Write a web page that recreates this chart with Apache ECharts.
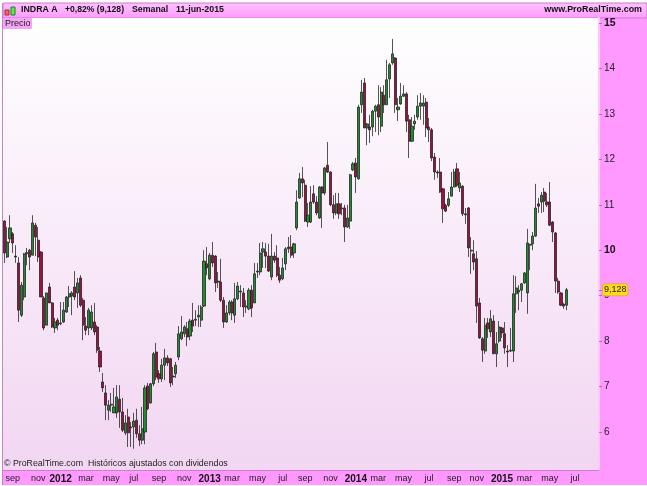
<!DOCTYPE html>
<html>
<head>
<meta charset="utf-8">
<style>
  html, body { margin: 0; padding: 0; background: #fff; }
  #chart { width: 647px; height: 486px; filter: blur(0.35px); }
</style>
<script src="https://cdn.jsdelivr.net/npm/echarts@6/dist/echarts.min.js"></script>
</head>
<body>
<div id="chart"></div>
<script>
// weekly candles, aug 2011 - jun 2015
const opens = [
  10.64,9.85,10.25,10.36,9.87,9.72,8.57,8.97,9.92,10.00,
  9.89,10.55,10.22,9.96,8.95,8.35,9.19,8.84,8.29,8.46,
  8.38,8.42,8.64,8.97,8.99,9.19,9.06,9.39,8.90,8.33,
  8.29,8.29,8.42,8.31,7.78,7.10,6.86,6.48,6.59,6.42,
  6.42,6.72,6.44,5.98,6.33,6.11,6.11,6.26,5.96,5.82,
  6.00,7.01,6.64,7.06,7.76,7.28,7.17,7.47,7.63,7.61,
  7.21,7.28,7.65,8.05,8.16,8.27,8.11,8.46,8.46,8.53,
  8.46,8.77,9.70,9.37,9.89,9.87,9.30,9.30,8.90,8.42,
  8.62,8.86,8.57,8.93,9.08,9.06,8.75,8.71,9.12,8.84,
  9.52,9.52,9.96,9.96,9.87,9.41,9.87,9.83,9.45,9.37,
  9.70,10.07,10.07,9.94,10.49,11.15,11.57,11.43,10.62,10.62,
  11.24,11.06,10.71,11.39,11.26,11.87,11.72,11.00,10.82,11.02,
  10.91,10.93,10.51,10.64,11.77,11.92,11.57,13.20,13.68,12.69,
  12.71,12.71,13.06,13.20,12.73,13.41,13.20,13.77,14.12,14.23,
  13.09,13.22,13.39,13.44,12.87,12.40,12.78,12.93,13.17,13.17,
  13.26,12.71,12.65,12.05,11.72,11.72,11.35,10.99,10.99,11.19,
  11.39,11.79,11.37,11.41,10.80,10.93,9.98,9.92,9.81,8.84,
  8.05,7.78,8.40,8.20,8.44,7.72,8.00,8.29,8.16,7.78,
  7.78,7.78,9.04,9.08,9.12,9.28,9.06,10.11,10.14,10.31,
  11.02,11.06,11.28,11.06,11.06,10.62,10.38,9.32,9.06,8.81,8.79
]
const closes = [
  9.94,10.18,10.49,10.16,9.85,8.68,9.23,9.92,9.95,9.85,
  10.60,10.29,9.85,8.97,8.29,9.06,8.84,8.31,8.42,8.35,
  8.40,8.68,8.97,9.04,9.06,8.97,9.28,8.79,8.35,8.24,
  8.68,8.64,8.20,7.80,7.43,6.97,6.59,6.59,6.61,6.55,
  6.77,6.44,6.04,6.20,5.98,6.09,6.24,5.96,5.82,6.07,
  6.97,6.51,7.06,7.72,7.21,7.17,7.47,7.63,7.52,7.08,
  7.23,7.47,8.16,8.20,8.31,8.09,8.44,8.33,8.48,8.57,
  8.75,9.76,9.61,9.89,9.72,9.28,9.32,8.90,8.42,8.62,
  8.86,8.62,8.93,9.21,9.10,8.75,8.77,9.12,8.73,9.48,
  9.54,9.94,10.03,9.87,9.54,9.87,9.78,9.45,9.34,9.61,
  10.03,10.03,9.89,10.14,11.06,11.57,11.48,10.64,10.77,11.06,
  11.06,10.82,11.39,11.26,11.81,11.72,11.00,10.82,11.02,10.80,
  10.93,10.51,10.71,11.66,11.90,11.61,13.15,13.48,12.69,12.78,
  12.65,13.06,13.17,12.93,13.48,13.20,13.75,14.08,14.32,13.20,
  13.15,13.39,13.44,12.84,12.40,12.73,12.84,13.17,13.24,13.24,
  12.69,12.65,12.03,11.72,11.70,11.28,10.91,10.86,11.13,11.39,
  11.72,11.43,11.48,10.80,10.78,10.05,10.00,9.74,8.77,8.07,
  7.80,8.35,8.27,8.49,7.72,7.94,8.31,8.18,7.85,7.76,
  7.80,9.04,9.17,9.12,9.26,9.50,10.16,10.13,10.31,10.93,
  10.97,11.21,11.08,11.00,10.55,10.40,9.32,9.08,8.79,8.77,9.128
]
const lows = [
  9.72,9.83,10.16,9.94,9.72,8.42,8.53,8.90,9.67,9.56,
  9.89,9.87,9.74,8.97,8.24,8.35,8.84,8.29,8.18,8.24,
  8.35,8.40,8.62,8.75,8.57,8.90,8.73,8.75,8.02,8.13,
  8.13,8.24,8.13,7.74,7.32,6.88,6.26,6.26,6.44,6.42,
  6.31,6.09,6.00,5.93,5.67,5.67,5.63,5.87,5.69,5.73,
  5.73,6.48,6.62,7.01,7.14,7.08,7.10,7.14,7.45,6.99,
  7.03,7.19,7.58,8.02,8.09,7.89,8.02,8.20,8.33,8.31,
  8.31,8.75,9.45,9.34,9.63,9.08,9.17,8.86,8.29,8.40,
  8.57,8.46,8.40,8.90,8.75,8.53,8.62,8.68,8.53,8.84,
  9.39,9.45,9.61,9.61,9.52,9.34,9.72,9.41,9.28,9.34,
  9.56,9.94,9.83,9.83,10.44,11.13,11.17,10.62,10.51,10.60,
  11.02,10.77,10.69,10.49,11.21,11.70,10.97,10.69,10.77,10.69,
  10.77,10.18,10.49,10.47,11.74,11.26,11.55,13.02,12.69,12.31,
  12.36,12.51,12.60,12.53,12.60,13.02,13.20,13.35,14.08,13.02,
  12.84,13.20,13.37,12.60,12.03,12.38,12.65,12.87,12.87,12.76,
  12.49,12.38,11.96,11.55,11.59,11.26,10.60,10.84,10.95,11.19,
  11.39,11.39,11.28,10.75,10.58,9.85,9.48,9.56,8.40,8.05,
  7.54,7.72,8.07,8.09,7.72,7.43,7.96,8.07,7.72,7.43,
  7.76,7.54,8.62,8.68,8.86,9.26,8.60,9.56,10.00,10.29,
  10.82,10.82,10.84,10.95,10.53,10.18,9.06,9.04,8.77,8.71,8.68
]
const highs = [
  10.66,10.51,10.77,10.40,10.11,9.85,9.30,9.94,10.05,10.03,
  10.77,10.60,10.51,9.98,8.99,9.06,9.28,8.86,8.51,8.51,
  8.86,8.86,8.99,9.21,9.10,9.54,9.39,9.45,8.95,8.53,
  8.73,8.79,8.84,8.35,7.87,7.30,7.03,6.70,6.86,6.97,
  7.03,7.03,6.75,6.37,6.51,6.22,6.42,6.51,6.15,6.55,
  7.03,7.08,7.08,7.76,7.96,7.36,7.61,7.83,7.69,7.63,
  7.43,7.54,8.33,8.55,8.35,8.42,8.49,8.84,8.68,8.79,
  8.79,10.00,10.07,9.94,10.18,9.89,9.52,9.81,8.97,8.79,
  8.90,8.90,9.28,9.30,9.23,9.17,8.90,9.17,9.23,9.72,
  9.72,10.16,10.18,10.16,10.14,10.36,9.96,10.11,9.63,9.83,
  10.07,10.29,10.33,10.16,11.32,11.70,11.83,11.55,11.04,11.41,
  11.43,11.19,11.41,11.41,11.83,12.38,11.74,11.21,11.26,11.26,
  11.04,11.00,11.00,11.68,11.94,12.03,13.20,13.75,13.79,12.80,
  12.98,13.09,13.20,13.63,13.59,13.63,14.19,14.12,14.65,14.25,
  13.35,13.68,13.63,13.48,12.98,12.93,12.98,13.41,13.46,13.41,
  13.35,12.91,12.69,12.14,11.76,12.03,11.37,11.02,11.28,11.72,
  11.79,11.92,11.72,11.43,10.93,10.95,10.29,10.22,9.98,8.95,
  8.09,8.51,8.51,8.68,8.57,8.20,8.44,8.31,8.42,7.91,
  8.29,9.45,9.43,9.23,9.28,9.52,10.47,10.14,10.40,11.46,
  11.15,11.28,11.37,11.26,11.50,10.64,10.40,9.39,9.08,8.84,9.17
]
const lastPrice = 9.128
// week index of each month tick, same order as tickLabels
const tickWeeks = [3,12,20,29,38,46,55,64,73,81,90,99,107,116,125,133,142,151,160,168,177,185,194,203]
const tickLabels = ['sep','nov','2012','mar','may','jul','sep','nov','2013','mar','may','jul','sep','nov','2014','mar','may','jul','sep','nov','2015','mar','may','jul']
const yTicks = [6,7,8,9,10,11,12,13,14,15]
const totalWeeks = 212 // empty room on the right of the last candle

const PANEL = '#ff99ff'
const EDGE = '#c97fc9'
const FONT = '"Liberation Sans", Arial, sans-serif'

const candles = opens.map((o, i) => [o, closes[i], lows[i], highs[i]])
const weeks = Array.from({ length: totalWeeks }, (_, i) => String(i))

const chart = echarts.init(document.getElementById('chart'))
chart.setOption({
  animation: false,
  grid: {
    left: 3,
    right: 48,
    top: 18,
    bottom: 16,
    show: true,
    borderWidth: 0,
    backgroundColor: new echarts.graphic.LinearGradient(0, 0, 0, 1, [
      { offset: 0, color: '#ffffff' },
      { offset: 1, color: '#f2d6f2' }
    ])
  },
  xAxis: {
    type: 'category',
    data: weeks,
    boundaryGap: true,
    axisLine: { lineStyle: { color: EDGE } },
    axisTick: {
      alignWithLabel: true,
      length: 2,
      lineStyle: { color: '#c070c0' },
      interval: (i) => tickWeeks.includes(i)
    },
    axisLabel: {
      interval: (i) => tickWeeks.includes(i),
      margin: 4,
      color: '#222',
      fontFamily: FONT,
      fontSize: 9,
      formatter: (v, i) => {
        const t = tickLabels[tickWeeks.indexOf(i)]
        return t && t.length === 4 ? '{y|' + t + '}' : t
      },
      rich: { y: { fontFamily: FONT, fontSize: 10, fontWeight: 'bold', color: '#111' } }
    },
    splitLine: { show: false }
  },
  yAxis: {
    type: 'value',
    position: 'right',
    min: 5.163,
    max: 15.11,
    axisLine: { show: true, lineStyle: { color: '#ffc8f8', width: 2 } },
    axisTick: { show: true, length: 3, lineStyle: { color: '#b070b0' }, customValues: yTicks.concat(lastPrice) },
    axisLabel: {
      customValues: yTicks,
      margin: 5,
      color: '#222',
      fontFamily: FONT,
      fontSize: 10,
      formatter: (v) => (v === 10 || v === 15) ? '{b|' + v + '}' : String(v),
      rich: { b: { fontFamily: FONT, fontSize: 10.5, fontWeight: 'bold', color: '#111' } }
    },
    splitLine: { show: false }
  },
  series: [{
    type: 'candlestick',
    data: candles,
    barWidth: 2.6,
    clip: false,
    itemStyle: {
      color: '#1c8f2c',
      color0: '#a0103f',
      borderColor: 'rgba(30,30,30,0.75)',
      borderColor0: 'rgba(30,30,30,0.75)',
      borderWidth: 1
    },
    markLine: {
      silent: true,
      symbol: 'none',
      animation: false,
      lineStyle: { color: 'rgba(0,0,0,0)', width: 0 },
      data: [{ yAxis: lastPrice }],
      label: {
        position: 'end',
        distance: 4,
        formatter: () => String(lastPrice).replace('.', ','),
        color: '#222',
        fontFamily: FONT,
        fontSize: 9,
        backgroundColor: '#ffd91a',
        borderColor: '#e0b040',
        borderWidth: 1,
        borderRadius: 2,
        padding: [1, 1, 1, 1]
      }
    }
  }],
  graphic: [
    // panels round the plot
    { type: 'rect', z: -10, shape: { x: 599, y: 3, width: 48, height: 482 }, style: { fill: PANEL } },
    { type: 'rect', z: -10, shape: { x: 3, y: 470, width: 644, height: 15 }, style: { fill: PANEL } },
    {
      type: 'rect', z: -9, shape: { x: 3, y: 3, width: 644, height: 15 },
      style: {
        fill: new echarts.graphic.LinearGradient(0, 0, 0, 1, [
          { offset: 0, color: '#ffc4ff' },
          { offset: 1, color: '#ff99ff' }
        ]),
        stroke: EDGE, lineWidth: 1
      }
    },
    { type: 'rect', z: -9, shape: { x: 2, y: 3, width: 1, height: 482 }, style: { fill: EDGE } },
    // small candle icon
    { type: 'rect', shape: { x: 5, y: 10, width: 4, height: 5 }, style: { fill: '#ff6060', stroke: '#a03030', lineWidth: 1 } },
    { type: 'rect', shape: { x: 11, y: 7, width: 4, height: 8 }, style: { fill: '#50f050', stroke: '#208020', lineWidth: 1 } },
    // header texts
    { type: 'text', x: 21, y: 5, style: { text: 'INDRA A', font: 'bold 8.8px ' + FONT, fill: '#111' } },
    { type: 'text', x: 65, y: 5, style: { text: '+0,82% (9,128)', font: 'bold 8.6px ' + FONT, fill: '#111' } },
    { type: 'text', x: 132, y: 5, style: { text: 'Semanal', font: 'bold 8.8px ' + FONT, fill: '#111' } },
    { type: 'text', x: 176, y: 5, style: { text: '11-jun-2015', font: 'bold 8.8px ' + FONT, fill: '#111' } },
    { type: 'text', x: 642, y: 5, style: { text: 'www.ProRealTime.com', font: 'bold 8.9px ' + FONT, fill: '#111', align: 'right' } },
    // price tag
    { type: 'rect', shape: { x: 3, y: 18, width: 29, height: 11 }, style: { fill: '#f5a5f5' } },
    { type: 'text', x: 5, y: 19, style: { text: 'Precio', font: '9px ' + FONT, fill: '#222' } },
    // copyright
    { type: 'text', x: 4, y: 459, style: { text: '© ProRealTime.com  Históricos ajustados con dividendos', font: '8.8px ' + FONT, fill: '#222' } }
  ]
})
</script>
</body>
</html>
